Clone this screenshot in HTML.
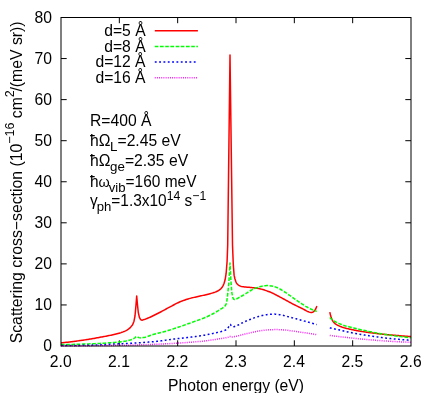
<!DOCTYPE html>
<html lang="en">
<head>
<meta charset="utf-8">
<title>Scattering cross-section vs photon energy</title>
<style>
html,body{margin:0;padding:0;background:#ffffff;}
body{width:436px;height:393px;overflow:hidden;font-family:"Liberation Sans",sans-serif;}
svg{display:block;will-change:transform;}
</style>
</head>
<body>
<svg width="436" height="393" viewBox="0 0 436 393">
<rect x="0" y="0" width="436" height="393" fill="#ffffff"/>
<g fill="none" stroke="#000000" stroke-width="1" stroke-linecap="butt">
<path d="M119.33,346.00 v-5.70 M119.33,17.50 v5.70 M177.67,346.00 v-5.70 M177.67,17.50 v5.70 M236.00,346.00 v-5.70 M236.00,17.50 v5.70 M294.33,346.00 v-5.70 M294.33,17.50 v5.70 M352.67,346.00 v-5.70 M352.67,17.50 v5.70 M61.00,304.94 h5.70 M411.00,304.94 h-5.70 M61.00,263.88 h5.70 M411.00,263.88 h-5.70 M61.00,222.81 h5.70 M411.00,222.81 h-5.70 M61.00,181.75 h5.70 M411.00,181.75 h-5.70 M61.00,140.69 h5.70 M411.00,140.69 h-5.70 M61.00,99.62 h5.70 M411.00,99.62 h-5.70 M61.00,58.56 h5.70 M411.00,58.56 h-5.70"/>
</g>
<g fill="none" stroke-width="1.50" stroke-linejoin="round" stroke-linecap="butt">
<path d="M61.00,342.90 L62.00,342.80 L63.00,342.70 L64.00,342.59 L65.00,342.48 L66.00,342.37 L67.00,342.26 L68.00,342.14 L69.00,342.02 L70.00,341.91 L71.00,341.78 L72.00,341.66 L73.00,341.53 L74.00,341.41 L75.00,341.28 L76.00,341.14 L77.00,341.01 L78.00,340.88 L79.00,340.74 L80.00,340.60 L81.00,340.46 L82.00,340.32 L83.00,340.17 L84.00,340.02 L85.00,339.87 L86.00,339.71 L87.00,339.56 L88.00,339.40 L89.00,339.23 L90.00,339.07 L91.00,338.90 L92.00,338.73 L93.00,338.56 L94.00,338.39 L95.00,338.21 L96.00,338.03 L97.00,337.85 L98.00,337.67 L99.00,337.49 L100.00,337.30 L101.00,337.11 L102.00,336.93 L103.00,336.74 L104.00,336.55 L105.00,336.37 L106.00,336.17 L107.00,335.98 L108.00,335.78 L109.00,335.58 L110.00,335.38 L111.00,335.17 L112.00,334.95 L113.00,334.73 L114.00,334.49 L115.00,334.25 L116.00,334.01 L117.00,333.75 L118.00,333.48 L119.00,333.20 L120.00,332.91 L121.00,332.60 L122.00,332.26 L123.00,331.90 L124.00,331.51 L125.00,331.08 L126.00,330.60 L127.00,330.04 L128.00,329.37 L129.00,328.63 L130.00,327.82 L130.50,327.40 L132.60,324.80 L134.00,321.20 L135.00,316.00 L135.90,306.00 L136.70,296.00 L137.50,305.00 L138.30,312.50 L139.40,317.40 L140.60,319.60 L142.10,320.20 L143.10,319.89 L144.10,319.57 L145.10,319.23 L146.10,318.86 L147.10,318.47 L148.10,318.06 L149.10,317.63 L150.10,317.19 L151.10,316.73 L152.10,316.26 L153.10,315.77 L154.10,315.28 L155.10,314.78 L156.10,314.28 L157.10,313.77 L158.10,313.26 L159.10,312.76 L160.10,312.25 L161.10,311.73 L162.10,311.20 L163.10,310.66 L164.10,310.12 L165.10,309.56 L166.10,309.01 L167.10,308.46 L168.10,307.91 L169.10,307.37 L170.10,306.85 L171.10,306.32 L172.10,305.79 L173.10,305.26 L174.10,304.73 L175.10,304.20 L176.10,303.68 L177.10,303.18 L178.10,302.70 L179.10,302.24 L180.10,301.81 L181.10,301.40 L182.10,301.01 L183.10,300.63 L184.10,300.27 L185.10,299.92 L186.10,299.58 L187.10,299.26 L188.10,298.95 L189.10,298.65 L190.10,298.37 L191.10,298.11 L192.10,297.85 L193.10,297.61 L194.10,297.39 L195.10,297.16 L196.10,296.95 L197.10,296.73 L198.10,296.52 L199.10,296.30 L200.10,296.08 L201.10,295.85 L202.10,295.61 L203.10,295.38 L204.10,295.15 L205.10,294.92 L206.10,294.69 L207.10,294.45 L208.10,294.20 L209.10,293.94 L210.10,293.67 L211.10,293.39 L212.10,293.11 L213.10,292.81 L214.10,292.48 L215.10,292.13 L216.10,291.74 L217.10,291.30 L218.10,290.78 L219.10,290.17 L220.10,289.39 L221.10,288.42 L222.10,287.24 L223.10,285.60 L224.10,283.27 L225.10,279.77 L226.10,273.72 L227.10,261.20 L227.70,245.00 L230.00,55.10 L232.50,245.00 L233.30,264.84 L234.10,275.15 L234.90,278.76 L235.70,281.19 L236.50,283.10 L237.30,284.08 L238.10,284.79 L238.90,285.32 L239.70,285.75 L240.50,286.12 L241.30,286.43 L242.10,286.62 L242.90,286.74 L243.70,286.84 L244.50,286.93 L245.30,287.00 L246.10,287.06 L246.90,287.13 L247.70,287.19 L248.50,287.27 L249.30,287.35 L250.10,287.44 L250.90,287.52 L251.70,287.61 L252.50,287.69 L253.30,287.78 L254.10,287.87 L254.90,287.97 L255.70,288.07 L256.50,288.18 L257.30,288.30 L258.10,288.43 L258.90,288.58 L259.70,288.75 L260.50,288.94 L261.30,289.14 L262.10,289.35 L262.90,289.58 L263.70,289.83 L264.50,290.08 L265.30,290.34 L266.10,290.61 L266.90,290.89 L267.70,291.18 L268.50,291.47 L269.30,291.76 L270.10,292.07 L270.90,292.40 L271.70,292.75 L272.50,293.12 L273.30,293.50 L274.10,293.90 L274.90,294.31 L275.70,294.73 L276.50,295.15 L277.30,295.58 L278.10,296.01 L278.90,296.44 L279.70,296.87 L280.50,297.29 L281.30,297.71 L282.10,298.13 L282.90,298.56 L283.70,299.00 L284.50,299.44 L285.30,299.88 L286.10,300.32 L286.90,300.77 L287.70,301.21 L288.50,301.65 L289.30,302.09 L290.10,302.53 L290.90,302.96 L291.70,303.39 L292.50,303.80 L293.30,304.21 L294.10,304.62 L294.90,305.02 L295.70,305.41 L296.50,305.81 L297.30,306.20 L298.10,306.58 L298.90,306.97 L299.70,307.36 L300.50,307.75 L301.30,308.15 L302.10,308.54 L302.90,308.94 L303.70,309.35 L304.50,309.78 L305.30,310.23 L306.10,310.69 L306.90,311.12 L307.70,311.48 L308.50,311.79 L309.30,312.10 L310.10,312.37 L310.90,312.55 L311.70,312.59 L312.50,312.33 L313.30,311.82 L314.10,311.20 L314.90,310.32 L315.70,309.01 L316.50,306.95 L316.80,306.00" stroke="#ff0000"/>
<path d="M329.80,312.10 L330.60,315.59 L331.40,318.14 L332.20,319.99 L333.00,321.34 L333.80,322.39 L334.60,323.17 L335.40,323.81 L336.20,324.35 L337.00,324.84 L337.80,325.28 L338.60,325.68 L339.40,326.05 L340.20,326.38 L341.00,326.69 L341.80,326.98 L342.60,327.25 L343.40,327.50 L344.20,327.75 L345.00,327.98 L345.80,328.20 L346.60,328.41 L347.40,328.61 L348.20,328.80 L349.00,328.98 L349.80,329.16 L350.60,329.33 L351.40,329.51 L352.20,329.68 L353.00,329.85 L353.80,330.02 L354.60,330.19 L355.40,330.35 L356.20,330.51 L357.00,330.66 L357.80,330.81 L358.60,330.96 L359.40,331.10 L360.20,331.23 L361.00,331.36 L361.80,331.49 L362.60,331.62 L363.40,331.74 L364.20,331.86 L365.00,331.98 L365.80,332.10 L366.60,332.22 L367.40,332.33 L368.20,332.44 L369.00,332.55 L369.80,332.66 L370.60,332.77 L371.40,332.87 L372.20,332.98 L373.00,333.08 L373.80,333.18 L374.60,333.28 L375.40,333.37 L376.20,333.47 L377.00,333.56 L377.80,333.65 L378.60,333.74 L379.40,333.83 L380.20,333.92 L381.00,334.01 L381.80,334.09 L382.60,334.17 L383.40,334.25 L384.20,334.33 L385.00,334.41 L385.80,334.49 L386.60,334.56 L387.40,334.63 L388.20,334.71 L389.00,334.78 L389.80,334.85 L390.60,334.92 L391.40,334.99 L392.20,335.06 L393.00,335.13 L393.80,335.20 L394.60,335.27 L395.40,335.33 L396.20,335.40 L397.00,335.47 L397.80,335.54 L398.60,335.61 L399.40,335.68 L400.20,335.74 L401.00,335.81 L401.80,335.88 L402.60,335.94 L403.40,336.01 L404.20,336.07 L405.00,336.14 L405.80,336.20 L406.60,336.26 L407.40,336.32 L408.20,336.39 L409.00,336.45 L409.80,336.51 L410.60,336.57 L411.00,336.60" stroke="#ff0000"/>
<path d="M61.00,344.60 L62.00,344.59 L63.00,344.57 L64.00,344.56 L65.00,344.54 L66.00,344.53 L67.00,344.51 L68.00,344.49 L69.00,344.47 L70.00,344.45 L71.00,344.43 L72.00,344.40 L73.00,344.38 L74.00,344.36 L75.00,344.33 L76.00,344.31 L77.00,344.28 L78.00,344.25 L79.00,344.23 L80.00,344.20 L81.00,344.17 L82.00,344.14 L83.00,344.11 L84.00,344.08 L85.00,344.04 L86.00,344.01 L87.00,343.97 L88.00,343.93 L89.00,343.89 L90.00,343.85 L91.00,343.81 L92.00,343.77 L93.00,343.73 L94.00,343.68 L95.00,343.64 L96.00,343.59 L97.00,343.54 L98.00,343.50 L99.00,343.45 L100.00,343.40 L101.00,343.35 L102.00,343.30 L103.00,343.25 L104.00,343.19 L105.00,343.13 L106.00,343.07 L107.00,343.01 L108.00,342.94 L109.00,342.87 L110.00,342.80 L111.00,342.72 L112.00,342.65 L113.00,342.57 L114.00,342.48 L115.00,342.40 L116.00,342.31 L117.00,342.21 L118.00,342.11 L119.00,342.00 L120.00,341.89 L121.00,341.77 L122.00,341.64 L123.00,341.50 L124.00,341.36 L125.00,341.20 L126.00,341.03 L127.00,340.83 L128.00,340.61 L129.00,340.35 L130.00,340.07 L131.00,339.75 L132.00,339.39 L133.00,339.00 L134.00,338.46 L135.00,337.75 L136.00,336.76 L137.00,336.38 L138.00,337.19 L139.00,337.62 L140.00,337.88 L141.00,337.87 L142.00,337.76 L143.00,337.58 L144.00,337.40 L145.00,337.19 L146.00,336.93 L147.00,336.63 L148.00,336.30 L149.00,335.94 L150.00,335.58 L151.00,335.22 L152.00,334.87 L153.00,334.54 L154.00,334.24 L155.00,333.97 L156.00,333.71 L157.00,333.46 L158.00,333.21 L159.00,332.97 L160.00,332.73 L161.00,332.49 L162.00,332.24 L163.00,331.99 L164.00,331.73 L165.00,331.45 L166.00,331.16 L167.00,330.87 L168.00,330.57 L169.00,330.26 L170.00,329.94 L171.00,329.62 L172.00,329.30 L173.00,328.97 L174.00,328.64 L175.00,328.31 L176.00,327.97 L177.00,327.64 L178.00,327.30 L179.00,326.97 L180.00,326.63 L181.00,326.29 L182.00,325.94 L183.00,325.60 L184.00,325.25 L185.00,324.90 L186.00,324.54 L187.00,324.19 L188.00,323.83 L189.00,323.47 L190.00,323.11 L191.00,322.75 L192.00,322.38 L193.00,322.02 L194.00,321.66 L195.00,321.30 L196.00,320.94 L197.00,320.59 L198.00,320.23 L199.00,319.86 L200.00,319.50 L201.00,319.13 L202.00,318.75 L203.00,318.36 L204.00,317.96 L205.00,317.55 L206.00,317.13 L207.00,316.69 L208.00,316.24 L209.00,315.77 L210.00,315.28 L211.00,314.78 L212.00,314.27 L213.00,313.74 L214.00,313.20 L215.00,312.64 L216.00,312.07 L217.00,311.47 L218.00,310.86 L219.00,310.23 L220.00,309.60 L221.00,308.98 L222.00,308.36 L223.00,307.68 L224.00,306.90 L225.00,305.97 L226.00,304.42 L226.60,302.80 L227.70,294.40 L229.00,280.40 L230.00,263.10 L230.90,280.40 L231.90,293.10 L232.80,297.60 L233.80,299.25 L234.80,299.50 L235.80,299.21 L236.80,298.77 L237.80,298.27 L238.80,297.69 L239.80,297.11 L240.80,296.56 L241.80,296.02 L242.80,295.47 L243.80,294.91 L244.80,294.32 L245.80,293.69 L246.80,293.00 L247.80,292.30 L248.80,291.63 L249.80,291.01 L250.80,290.47 L251.80,289.94 L252.80,289.43 L253.80,288.95 L254.80,288.49 L255.80,288.07 L256.80,287.68 L257.80,287.33 L258.80,287.02 L259.80,286.72 L260.80,286.44 L261.80,286.21 L262.80,286.03 L263.80,285.89 L264.80,285.76 L265.80,285.66 L266.80,285.60 L267.80,285.61 L268.80,285.68 L269.80,285.78 L270.80,285.91 L271.80,286.04 L272.80,286.24 L273.80,286.49 L274.80,286.79 L275.80,287.13 L276.80,287.49 L277.80,287.91 L278.80,288.40 L279.80,288.94 L280.80,289.49 L281.80,290.06 L282.80,290.68 L283.80,291.34 L284.80,292.02 L285.80,292.72 L286.80,293.41 L287.80,294.10 L288.80,294.79 L289.80,295.49 L290.80,296.20 L291.80,296.91 L292.80,297.63 L293.80,298.35 L294.80,299.06 L295.80,299.77 L296.80,300.47 L297.80,301.16 L298.80,301.84 L299.80,302.49 L300.80,303.15 L301.80,303.81 L302.80,304.45 L303.80,305.09 L304.80,305.72 L305.80,306.33 L306.80,306.91 L307.80,307.48 L308.80,308.01 L309.80,308.53 L310.80,309.02 L311.80,309.48 L312.80,309.92 L313.80,310.32 L314.80,310.71 L315.80,311.07 L316.80,311.40" stroke="#00ff00" stroke-dasharray="3.64 1.56"/>
<path d="M329.80,317.50 L330.80,318.54 L331.80,319.44 L332.80,320.18 L333.80,320.84 L334.80,321.44 L335.80,321.99 L336.80,322.50 L337.80,322.97 L338.80,323.41 L339.80,323.82 L340.80,324.22 L341.80,324.62 L342.80,325.00 L343.80,325.36 L344.80,325.70 L345.80,326.00 L346.80,326.26 L347.80,326.50 L348.80,326.72 L349.80,326.95 L350.80,327.20 L351.80,327.45 L352.80,327.70 L353.80,327.96 L354.80,328.22 L355.80,328.47 L356.80,328.73 L357.80,328.98 L358.80,329.22 L359.80,329.45 L360.80,329.68 L361.80,329.91 L362.80,330.13 L363.80,330.35 L364.80,330.57 L365.80,330.79 L366.80,331.01 L367.80,331.22 L368.80,331.43 L369.80,331.64 L370.80,331.85 L371.80,332.05 L372.80,332.25 L373.80,332.45 L374.80,332.64 L375.80,332.84 L376.80,333.02 L377.80,333.21 L378.80,333.39 L379.80,333.57 L380.80,333.74 L381.80,333.91 L382.80,334.08 L383.80,334.24 L384.80,334.41 L385.80,334.57 L386.80,334.72 L387.80,334.88 L388.80,335.03 L389.80,335.18 L390.80,335.32 L391.80,335.47 L392.80,335.61 L393.80,335.74 L394.80,335.87 L395.80,336.00 L396.80,336.13 L397.80,336.26 L398.80,336.38 L399.80,336.50 L400.80,336.62 L401.80,336.74 L402.80,336.85 L403.80,336.97 L404.80,337.08 L405.80,337.18 L406.80,337.29 L407.80,337.39 L408.80,337.49 L409.80,337.59 L410.80,337.68 L411.00,337.70" stroke="#00ff00" stroke-dasharray="3.64 1.56"/>
<path d="M61.00,345.60 L61.70,345.60 L62.40,345.60 L63.10,345.60 L63.80,345.60 L64.50,345.59 L65.20,345.59 L65.90,345.59 L66.60,345.58 L67.30,345.58 L68.00,345.57 L68.70,345.57 L69.40,345.56 L70.10,345.55 L70.80,345.55 L71.50,345.54 L72.20,345.53 L72.90,345.52 L73.60,345.51 L74.30,345.50 L75.00,345.49 L75.70,345.48 L76.40,345.47 L77.10,345.46 L77.80,345.45 L78.50,345.44 L79.20,345.43 L79.90,345.41 L80.60,345.40 L81.30,345.39 L82.00,345.37 L82.70,345.36 L83.40,345.34 L84.10,345.33 L84.80,345.31 L85.50,345.30 L86.20,345.28 L86.90,345.26 L87.60,345.25 L88.30,345.23 L89.00,345.21 L89.70,345.19 L90.40,345.18 L91.10,345.16 L91.80,345.14 L92.50,345.12 L93.20,345.10 L93.90,345.08 L94.60,345.06 L95.30,345.04 L96.00,345.02 L96.70,345.00 L97.40,344.98 L98.10,344.96 L98.80,344.94 L99.50,344.92 L100.20,344.89 L100.90,344.87 L101.60,344.84 L102.30,344.80 L103.00,344.76 L103.70,344.72 L104.40,344.67 L105.10,344.63 L105.80,344.58 L106.50,344.53 L107.20,344.48 L107.90,344.43 L108.60,344.39 L109.30,344.34 L110.00,344.30 L110.70,344.26 L111.40,344.22 L112.10,344.18 L112.80,344.15 L113.50,344.11 L114.20,344.07 L114.90,344.03 L115.60,344.00 L116.30,343.96 L117.00,343.93 L117.70,343.89 L118.40,343.86 L119.10,343.82 L119.80,343.79 L120.50,343.76 L121.20,343.72 L121.90,343.69 L122.60,343.65 L123.30,343.62 L124.00,343.58 L124.70,343.55 L125.40,343.52 L126.10,343.48 L126.80,343.45 L127.50,343.41 L128.20,343.38 L128.90,343.34 L129.60,343.30 L130.30,343.27 L131.00,343.23 L131.70,343.19 L132.40,343.16 L133.10,343.12 L133.80,343.08 L134.50,343.04 L135.20,343.00 L135.90,342.96 L136.60,342.92 L137.30,342.87 L138.00,342.83 L138.70,342.78 L139.40,342.74 L140.10,342.69 L140.80,342.65 L141.50,342.60 L142.20,342.55 L142.90,342.50 L143.60,342.45 L144.30,342.40 L145.00,342.35 L145.70,342.30 L146.40,342.25 L147.10,342.20 L147.80,342.14 L148.50,342.09 L149.20,342.03 L149.90,341.97 L150.60,341.91 L151.30,341.85 L152.00,341.79 L152.70,341.73 L153.40,341.67 L154.10,341.60 L154.80,341.54 L155.50,341.47 L156.20,341.40 L156.90,341.33 L157.60,341.26 L158.30,341.19 L159.00,341.11 L159.70,341.03 L160.40,340.95 L161.10,340.86 L161.80,340.77 L162.50,340.67 L163.20,340.56 L163.90,340.45 L164.60,340.34 L165.30,340.23 L166.00,340.12 L166.70,340.01 L167.40,339.91 L168.10,339.82 L168.80,339.72 L169.50,339.63 L170.20,339.54 L170.90,339.45 L171.60,339.36 L172.30,339.28 L173.00,339.19 L173.70,339.11 L174.40,339.02 L175.10,338.94 L175.80,338.86 L176.50,338.78 L177.20,338.70 L177.90,338.62 L178.60,338.54 L179.30,338.46 L180.00,338.38 L180.70,338.30 L181.40,338.22 L182.10,338.14 L182.80,338.07 L183.50,337.99 L184.20,337.91 L184.90,337.83 L185.60,337.75 L186.30,337.67 L187.00,337.59 L187.70,337.51 L188.40,337.43 L189.10,337.35 L189.80,337.26 L190.50,337.18 L191.20,337.09 L191.90,337.01 L192.60,336.92 L193.30,336.83 L194.00,336.74 L194.70,336.65 L195.40,336.56 L196.10,336.46 L196.80,336.36 L197.50,336.27 L198.20,336.17 L198.90,336.06 L199.60,335.96 L200.30,335.86 L201.00,335.75 L201.70,335.64 L202.40,335.52 L203.10,335.40 L203.80,335.28 L204.50,335.16 L205.20,335.03 L205.90,334.90 L206.60,334.77 L207.30,334.63 L208.00,334.49 L208.70,334.35 L209.40,334.21 L210.10,334.06 L210.80,333.91 L211.50,333.76 L212.20,333.61 L212.90,333.46 L213.60,333.31 L214.30,333.15 L215.00,333.00 L215.70,332.84 L216.40,332.69 L217.10,332.53 L217.80,332.37 L218.50,332.21 L219.20,332.03 L219.90,331.86 L220.60,331.67 L221.30,331.48 L222.00,331.27 L222.70,331.07 L223.40,330.86 L224.10,330.63 L224.80,330.37 L225.50,330.06 L226.20,329.68 L226.90,329.10 L227.60,328.36 L228.30,327.50 L229.00,326.16 L229.70,324.73 L230.40,324.40 L231.10,325.58 L231.80,326.36 L232.50,326.84 L233.20,326.87 L233.90,326.69 L234.60,326.44 L235.30,326.20 L236.00,325.95 L236.70,325.67 L237.40,325.37 L238.10,325.05 L238.80,324.71 L239.50,324.37 L240.20,324.01 L240.90,323.65 L241.60,323.28 L242.30,322.92 L243.00,322.55 L243.70,322.20 L244.40,321.85 L245.10,321.52 L245.80,321.20 L246.50,320.90 L247.20,320.61 L247.90,320.32 L248.60,320.04 L249.30,319.75 L250.00,319.47 L250.70,319.19 L251.40,318.92 L252.10,318.65 L252.80,318.39 L253.50,318.13 L254.20,317.88 L254.90,317.64 L255.60,317.41 L256.30,317.18 L257.00,316.96 L257.70,316.76 L258.40,316.56 L259.10,316.36 L259.80,316.16 L260.50,315.97 L261.20,315.78 L261.90,315.60 L262.60,315.43 L263.30,315.28 L264.00,315.13 L264.70,315.00 L265.40,314.88 L266.10,314.79 L266.80,314.70 L267.50,314.61 L268.20,314.52 L268.90,314.44 L269.60,314.36 L270.30,314.29 L271.00,314.23 L271.70,314.18 L272.40,314.14 L273.10,314.11 L273.80,314.10 L274.50,314.11 L275.20,314.14 L275.90,314.19 L276.60,314.25 L277.30,314.34 L278.00,314.43 L278.70,314.53 L279.40,314.64 L280.10,314.76 L280.80,314.87 L281.50,314.98 L282.20,315.12 L282.90,315.28 L283.60,315.45 L284.30,315.64 L285.00,315.83 L285.70,316.03 L286.40,316.22 L287.10,316.41 L287.80,316.60 L288.50,316.78 L289.20,316.96 L289.90,317.15 L290.60,317.33 L291.30,317.51 L292.00,317.70 L292.70,317.88 L293.40,318.07 L294.10,318.26 L294.80,318.44 L295.50,318.63 L296.20,318.82 L296.90,319.01 L297.60,319.20 L298.30,319.39 L299.00,319.58 L299.70,319.77 L300.40,319.96 L301.10,320.16 L301.80,320.35 L302.50,320.54 L303.20,320.73 L303.90,320.93 L304.60,321.12 L305.30,321.32 L306.00,321.51 L306.70,321.71 L307.40,321.90 L308.10,322.10 L308.80,322.30 L309.50,322.50 L310.20,322.70 L310.90,322.90 L311.60,323.10 L312.30,323.30 L313.00,323.50 L313.70,323.70 L314.40,323.90 L315.10,324.11 L315.80,324.31 L316.50,324.51 L316.80,324.60" stroke="#0000ff" stroke-dasharray="1.86 2.47"/>
<path d="M329.80,327.90 L330.80,328.10 L331.80,328.31 L332.80,328.51 L333.80,328.72 L334.80,328.94 L335.80,329.16 L336.80,329.38 L337.80,329.61 L338.80,329.85 L339.80,330.09 L340.80,330.33 L341.80,330.57 L342.80,330.81 L343.80,331.05 L344.80,331.28 L345.80,331.50 L346.80,331.71 L347.80,331.93 L348.80,332.14 L349.80,332.35 L350.80,332.55 L351.80,332.76 L352.80,332.96 L353.80,333.16 L354.80,333.35 L355.80,333.54 L356.80,333.73 L357.80,333.91 L358.80,334.09 L359.80,334.27 L360.80,334.44 L361.80,334.61 L362.80,334.77 L363.80,334.94 L364.80,335.10 L365.80,335.26 L366.80,335.42 L367.80,335.57 L368.80,335.73 L369.80,335.88 L370.80,336.03 L371.80,336.18 L372.80,336.32 L373.80,336.46 L374.80,336.60 L375.80,336.74 L376.80,336.88 L377.80,337.01 L378.80,337.14 L379.80,337.27 L380.80,337.40 L381.80,337.53 L382.80,337.65 L383.80,337.78 L384.80,337.90 L385.80,338.02 L386.80,338.13 L387.80,338.25 L388.80,338.36 L389.80,338.47 L390.80,338.58 L391.80,338.68 L392.80,338.78 L393.80,338.88 L394.80,338.98 L395.80,339.08 L396.80,339.17 L397.80,339.26 L398.80,339.35 L399.80,339.44 L400.80,339.53 L401.80,339.61 L402.80,339.69 L403.80,339.78 L404.80,339.85 L405.80,339.93 L406.80,340.01 L407.80,340.08 L408.80,340.15 L409.80,340.22 L410.80,340.29 L411.00,340.30" stroke="#0000ff" stroke-dasharray="1.86 2.47"/>
<path d="M61.00,345.80 L61.50,345.80 L62.00,345.80 L62.50,345.80 L63.00,345.80 L63.50,345.80 L64.00,345.80 L64.50,345.80 L65.00,345.80 L65.50,345.80 L66.00,345.80 L66.50,345.79 L67.00,345.79 L67.50,345.79 L68.00,345.79 L68.50,345.79 L69.00,345.79 L69.50,345.79 L70.00,345.78 L70.50,345.78 L71.00,345.78 L71.50,345.78 L72.00,345.78 L72.50,345.78 L73.00,345.77 L73.50,345.77 L74.00,345.77 L74.50,345.77 L75.00,345.76 L75.50,345.76 L76.00,345.76 L76.50,345.76 L77.00,345.75 L77.50,345.75 L78.00,345.75 L78.50,345.74 L79.00,345.74 L79.50,345.74 L80.00,345.73 L80.50,345.73 L81.00,345.73 L81.50,345.72 L82.00,345.72 L82.50,345.72 L83.00,345.71 L83.50,345.71 L84.00,345.71 L84.50,345.70 L85.00,345.70 L85.50,345.69 L86.00,345.69 L86.50,345.69 L87.00,345.68 L87.50,345.68 L88.00,345.67 L88.50,345.67 L89.00,345.66 L89.50,345.66 L90.00,345.66 L90.50,345.65 L91.00,345.65 L91.50,345.64 L92.00,345.64 L92.50,345.63 L93.00,345.63 L93.50,345.62 L94.00,345.62 L94.50,345.61 L95.00,345.61 L95.50,345.60 L96.00,345.60 L96.50,345.59 L97.00,345.59 L97.50,345.58 L98.00,345.58 L98.50,345.57 L99.00,345.56 L99.50,345.56 L100.00,345.55 L100.50,345.55 L101.00,345.54 L101.50,345.54 L102.00,345.53 L102.50,345.52 L103.00,345.52 L103.50,345.51 L104.00,345.51 L104.50,345.50 L105.00,345.49 L105.50,345.49 L106.00,345.48 L106.50,345.48 L107.00,345.47 L107.50,345.46 L108.00,345.46 L108.50,345.45 L109.00,345.45 L109.50,345.44 L110.00,345.43 L110.50,345.43 L111.00,345.42 L111.50,345.41 L112.00,345.41 L112.50,345.40 L113.00,345.39 L113.50,345.39 L114.00,345.38 L114.50,345.37 L115.00,345.37 L115.50,345.36 L116.00,345.35 L116.50,345.35 L117.00,345.34 L117.50,345.33 L118.00,345.33 L118.50,345.32 L119.00,345.31 L119.50,345.31 L120.00,345.30 L120.50,345.29 L121.00,345.29 L121.50,345.28 L122.00,345.27 L122.50,345.26 L123.00,345.25 L123.50,345.25 L124.00,345.24 L124.50,345.23 L125.00,345.22 L125.50,345.21 L126.00,345.20 L126.50,345.19 L127.00,345.18 L127.50,345.17 L128.00,345.16 L128.50,345.14 L129.00,345.13 L129.50,345.12 L130.00,345.11 L130.50,345.10 L131.00,345.08 L131.50,345.07 L132.00,345.06 L132.50,345.05 L133.00,345.03 L133.50,345.02 L134.00,345.01 L134.50,344.99 L135.00,344.98 L135.50,344.96 L136.00,344.95 L136.50,344.94 L137.00,344.92 L137.50,344.91 L138.00,344.89 L138.50,344.88 L139.00,344.86 L139.50,344.84 L140.00,344.83 L140.50,344.81 L141.00,344.80 L141.50,344.78 L142.00,344.76 L142.50,344.75 L143.00,344.73 L143.50,344.71 L144.00,344.70 L144.50,344.68 L145.00,344.66 L145.50,344.65 L146.00,344.63 L146.50,344.61 L147.00,344.59 L147.50,344.57 L148.00,344.56 L148.50,344.54 L149.00,344.52 L149.50,344.50 L150.00,344.48 L150.50,344.47 L151.00,344.45 L151.50,344.43 L152.00,344.41 L152.50,344.39 L153.00,344.37 L153.50,344.35 L154.00,344.33 L154.50,344.31 L155.00,344.30 L155.50,344.28 L156.00,344.26 L156.50,344.24 L157.00,344.22 L157.50,344.20 L158.00,344.18 L158.50,344.16 L159.00,344.14 L159.50,344.12 L160.00,344.10 L160.50,344.08 L161.00,344.06 L161.50,344.04 L162.00,344.02 L162.50,343.99 L163.00,343.97 L163.50,343.95 L164.00,343.92 L164.50,343.90 L165.00,343.87 L165.50,343.85 L166.00,343.82 L166.50,343.79 L167.00,343.77 L167.50,343.74 L168.00,343.71 L168.50,343.69 L169.00,343.66 L169.50,343.63 L170.00,343.60 L170.50,343.57 L171.00,343.54 L171.50,343.51 L172.00,343.48 L172.50,343.45 L173.00,343.43 L173.50,343.40 L174.00,343.37 L174.50,343.34 L175.00,343.31 L175.50,343.28 L176.00,343.24 L176.50,343.21 L177.00,343.18 L177.50,343.15 L178.00,343.12 L178.50,343.09 L179.00,343.06 L179.50,343.03 L180.00,342.99 L180.50,342.96 L181.00,342.93 L181.50,342.90 L182.00,342.86 L182.50,342.83 L183.00,342.79 L183.50,342.76 L184.00,342.73 L184.50,342.69 L185.00,342.66 L185.50,342.62 L186.00,342.59 L186.50,342.55 L187.00,342.51 L187.50,342.48 L188.00,342.44 L188.50,342.40 L189.00,342.36 L189.50,342.33 L190.00,342.29 L190.50,342.25 L191.00,342.21 L191.50,342.17 L192.00,342.13 L192.50,342.09 L193.00,342.05 L193.50,342.01 L194.00,341.97 L194.50,341.92 L195.00,341.88 L195.50,341.84 L196.00,341.79 L196.50,341.75 L197.00,341.70 L197.50,341.66 L198.00,341.61 L198.50,341.57 L199.00,341.52 L199.50,341.47 L200.00,341.43 L200.50,341.38 L201.00,341.33 L201.50,341.28 L202.00,341.23 L202.50,341.18 L203.00,341.12 L203.50,341.07 L204.00,341.01 L204.50,340.95 L205.00,340.89 L205.50,340.83 L206.00,340.77 L206.50,340.71 L207.00,340.64 L207.50,340.57 L208.00,340.51 L208.50,340.44 L209.00,340.37 L209.50,340.30 L210.00,340.23 L210.50,340.16 L211.00,340.09 L211.50,340.01 L212.00,339.94 L212.50,339.86 L213.00,339.79 L213.50,339.71 L214.00,339.64 L214.50,339.56 L215.00,339.48 L215.50,339.41 L216.00,339.33 L216.50,339.25 L217.00,339.17 L217.50,339.09 L218.00,339.02 L218.50,338.94 L219.00,338.86 L219.50,338.78 L220.00,338.70 L220.50,338.62 L221.00,338.55 L221.50,338.47 L222.00,338.40 L222.50,338.33 L223.00,338.25 L223.50,338.17 L224.00,338.10 L224.50,338.01 L225.00,337.93 L225.50,337.84 L226.00,337.74 L226.50,337.64 L227.00,337.54 L227.50,337.42 L228.00,337.30 L228.50,337.12 L229.00,336.88 L229.50,336.65 L230.00,336.51 L230.50,336.52 L231.00,336.64 L231.50,336.79 L232.00,336.89 L232.50,336.89 L233.00,336.85 L233.50,336.78 L234.00,336.69 L234.50,336.59 L235.00,336.50 L235.50,336.41 L236.00,336.32 L236.50,336.21 L237.00,336.11 L237.50,336.00 L238.00,335.88 L238.50,335.76 L239.00,335.64 L239.50,335.51 L240.00,335.38 L240.50,335.25 L241.00,335.12 L241.50,334.99 L242.00,334.85 L242.50,334.72 L243.00,334.58 L243.50,334.45 L244.00,334.32 L244.50,334.19 L245.00,334.06 L245.50,333.94 L246.00,333.82 L246.50,333.70 L247.00,333.58 L247.50,333.47 L248.00,333.35 L248.50,333.23 L249.00,333.11 L249.50,332.99 L250.00,332.87 L250.50,332.75 L251.00,332.63 L251.50,332.51 L252.00,332.40 L252.50,332.28 L253.00,332.17 L253.50,332.06 L254.00,331.95 L254.50,331.84 L255.00,331.74 L255.50,331.64 L256.00,331.54 L256.50,331.44 L257.00,331.35 L257.50,331.27 L258.00,331.18 L258.50,331.10 L259.00,331.02 L259.50,330.94 L260.00,330.86 L260.50,330.78 L261.00,330.70 L261.50,330.63 L262.00,330.55 L262.50,330.48 L263.00,330.41 L263.50,330.34 L264.00,330.28 L264.50,330.22 L265.00,330.16 L265.50,330.10 L266.00,330.05 L266.50,330.01 L267.00,329.97 L267.50,329.93 L268.00,329.90 L268.50,329.87 L269.00,329.85 L269.50,329.82 L270.00,329.79 L270.50,329.77 L271.00,329.74 L271.50,329.72 L272.00,329.70 L272.50,329.68 L273.00,329.66 L273.50,329.64 L274.00,329.63 L274.50,329.62 L275.00,329.61 L275.50,329.60 L276.00,329.60 L276.50,329.60 L277.00,329.60 L277.50,329.61 L278.00,329.62 L278.50,329.63 L279.00,329.65 L279.50,329.67 L280.00,329.69 L280.50,329.72 L281.00,329.74 L281.50,329.77 L282.00,329.80 L282.50,329.83 L283.00,329.86 L283.50,329.90 L284.00,329.93 L284.50,329.97 L285.00,330.00 L285.50,330.04 L286.00,330.09 L286.50,330.14 L287.00,330.20 L287.50,330.27 L288.00,330.34 L288.50,330.41 L289.00,330.49 L289.50,330.57 L290.00,330.65 L290.50,330.73 L291.00,330.81 L291.50,330.88 L292.00,330.96 L292.50,331.03 L293.00,331.10 L293.50,331.17 L294.00,331.23 L294.50,331.30 L295.00,331.37 L295.50,331.44 L296.00,331.51 L296.50,331.58 L297.00,331.64 L297.50,331.71 L298.00,331.78 L298.50,331.85 L299.00,331.92 L299.50,331.99 L300.00,332.06 L300.50,332.13 L301.00,332.20 L301.50,332.27 L302.00,332.34 L302.50,332.41 L303.00,332.48 L303.50,332.56 L304.00,332.63 L304.50,332.70 L305.00,332.78 L305.50,332.85 L306.00,332.92 L306.50,333.00 L307.00,333.07 L307.50,333.15 L308.00,333.22 L308.50,333.30 L309.00,333.38 L309.50,333.45 L310.00,333.53 L310.50,333.61 L311.00,333.68 L311.50,333.76 L312.00,333.84 L312.50,333.92 L313.00,333.99 L313.50,334.07 L314.00,334.15 L314.50,334.23 L315.00,334.31 L315.50,334.39 L316.00,334.47 L316.50,334.55 L316.80,334.60" stroke="#ff00ff" stroke-dasharray="0.87 1.30"/>
<path d="M329.80,335.50 L330.30,335.56 L330.80,335.63 L331.30,335.69 L331.80,335.75 L332.30,335.81 L332.80,335.87 L333.30,335.93 L333.80,336.00 L334.30,336.06 L334.80,336.12 L335.30,336.18 L335.80,336.24 L336.30,336.30 L336.80,336.36 L337.30,336.42 L337.80,336.48 L338.30,336.54 L338.80,336.60 L339.30,336.66 L339.80,336.71 L340.30,336.77 L340.80,336.83 L341.30,336.89 L341.80,336.95 L342.30,337.00 L342.80,337.06 L343.30,337.12 L343.80,337.17 L344.30,337.23 L344.80,337.29 L345.30,337.34 L345.80,337.40 L346.30,337.46 L346.80,337.51 L347.30,337.57 L347.80,337.62 L348.30,337.68 L348.80,337.73 L349.30,337.79 L349.80,337.84 L350.30,337.90 L350.80,337.95 L351.30,338.01 L351.80,338.06 L352.30,338.12 L352.80,338.17 L353.30,338.22 L353.80,338.28 L354.30,338.33 L354.80,338.38 L355.30,338.43 L355.80,338.48 L356.30,338.54 L356.80,338.59 L357.30,338.64 L357.80,338.69 L358.30,338.74 L358.80,338.78 L359.30,338.83 L359.80,338.88 L360.30,338.93 L360.80,338.98 L361.30,339.02 L361.80,339.07 L362.30,339.12 L362.80,339.16 L363.30,339.21 L363.80,339.25 L364.30,339.30 L364.80,339.34 L365.30,339.39 L365.80,339.43 L366.30,339.48 L366.80,339.52 L367.30,339.57 L367.80,339.61 L368.30,339.65 L368.80,339.70 L369.30,339.74 L369.80,339.78 L370.30,339.83 L370.80,339.87 L371.30,339.91 L371.80,339.95 L372.30,339.99 L372.80,340.04 L373.30,340.08 L373.80,340.12 L374.30,340.16 L374.80,340.20 L375.30,340.24 L375.80,340.28 L376.30,340.32 L376.80,340.36 L377.30,340.40 L377.80,340.43 L378.30,340.47 L378.80,340.51 L379.30,340.55 L379.80,340.59 L380.30,340.62 L380.80,340.66 L381.30,340.70 L381.80,340.73 L382.30,340.77 L382.80,340.81 L383.30,340.84 L383.80,340.88 L384.30,340.92 L384.80,340.95 L385.30,340.99 L385.80,341.02 L386.30,341.06 L386.80,341.09 L387.30,341.13 L387.80,341.16 L388.30,341.19 L388.80,341.23 L389.30,341.26 L389.80,341.29 L390.30,341.32 L390.80,341.36 L391.30,341.39 L391.80,341.42 L392.30,341.45 L392.80,341.48 L393.30,341.51 L393.80,341.53 L394.30,341.56 L394.80,341.59 L395.30,341.62 L395.80,341.64 L396.30,341.67 L396.80,341.69 L397.30,341.72 L397.80,341.74 L398.30,341.77 L398.80,341.79 L399.30,341.82 L399.80,341.84 L400.30,341.87 L400.80,341.89 L401.30,341.91 L401.80,341.94 L402.30,341.96 L402.80,341.98 L403.30,342.01 L403.80,342.03 L404.30,342.05 L404.80,342.07 L405.30,342.09 L405.80,342.11 L406.30,342.13 L406.80,342.15 L407.30,342.17 L407.80,342.19 L408.30,342.21 L408.80,342.23 L409.30,342.24 L409.80,342.26 L410.30,342.28 L410.80,342.29 L411.00,342.30" stroke="#ff00ff" stroke-dasharray="0.87 1.30"/>
</g>
<g fill="none" stroke-width="1.50">
<path d="M154.80,30.70 L197.90,30.70" stroke="#ff0000"/>
<path d="M154.80,46.40 L197.90,46.40" stroke="#00ff00" stroke-dasharray="3.64 1.56"/>
<path d="M154.80,62.10 L197.90,62.10" stroke="#0000ff" stroke-dasharray="1.86 2.47"/>
<path d="M154.80,77.80 L197.90,77.80" stroke="#ff00ff" stroke-dasharray="0.87 1.30"/>
</g>
<rect x="61.00" y="17.50" width="350.00" height="328.50" fill="none" stroke="#000000" stroke-width="1"/>
<g font-family="'Liberation Sans', sans-serif" font-size="15.70" fill="#000000">
<text transform="translate(52.00,351.30) scale(1.0000,1)" text-anchor="end">0</text>
<text transform="translate(52.00,310.24) scale(1.0000,1)" text-anchor="end">10</text>
<text transform="translate(52.00,269.18) scale(1.0000,1)" text-anchor="end">20</text>
<text transform="translate(52.00,228.11) scale(1.0000,1)" text-anchor="end">30</text>
<text transform="translate(52.00,187.05) scale(1.0000,1)" text-anchor="end">40</text>
<text transform="translate(52.00,145.99) scale(1.0000,1)" text-anchor="end">50</text>
<text transform="translate(52.00,104.92) scale(1.0000,1)" text-anchor="end">60</text>
<text transform="translate(52.00,63.86) scale(1.0000,1)" text-anchor="end">70</text>
<text transform="translate(52.00,22.80) scale(1.0000,1)" text-anchor="end">80</text>
<text transform="translate(60.70,367.00) scale(1.0000,1)" text-anchor="middle">2.0</text>
<text transform="translate(119.03,367.00) scale(1.0000,1)" text-anchor="middle">2.1</text>
<text transform="translate(177.37,367.00) scale(1.0000,1)" text-anchor="middle">2.2</text>
<text transform="translate(235.70,367.00) scale(1.0000,1)" text-anchor="middle">2.3</text>
<text transform="translate(294.03,367.00) scale(1.0000,1)" text-anchor="middle">2.4</text>
<text transform="translate(352.37,367.00) scale(1.0000,1)" text-anchor="middle">2.5</text>
<text transform="translate(410.70,367.00) scale(1.0000,1)" text-anchor="middle">2.6</text>
<text transform="translate(145.60,36.00) scale(1.0000,1)" text-anchor="end">d=5 Å</text>
<text transform="translate(145.60,51.70) scale(1.0000,1)" text-anchor="end">d=8 Å</text>
<text transform="translate(145.60,67.40) scale(1.0000,1)" text-anchor="end">d=12 Å</text>
<text transform="translate(145.60,83.10) scale(1.0000,1)" text-anchor="end">d=16 Å</text>
<text transform="translate(236.00,391.00) scale(1.0000,1)" text-anchor="middle">Photon energy (eV)</text>
<text transform="translate(22.20,182.35) rotate(-90) scale(1.0060,1)" text-anchor="middle">Scattering cross−section (10<tspan font-size="12.40" dy="-8.20">−16</tspan><tspan dy="8.20"> cm</tspan><tspan font-size="12.40" dy="-8.20">2</tspan><tspan dy="8.20" dx="-1.3">/(meV sr))</tspan></text>
<text transform="translate(90.00,126.00) scale(1.0000,1)" text-anchor="start">R=400 Å</text>
<text transform="translate(90.00,146.00) scale(1.0000,1)" text-anchor="start">ħΩ<tspan font-size="13.34" dy="4.90" dx="-0.40">L</tspan><tspan dy="-4.90">=2.45 eV</tspan></text>
<text transform="translate(90.00,166.40) scale(1.0000,1)" text-anchor="start">ħΩ<tspan font-size="13.34" dy="4.90" dx="-0.40">ge</tspan><tspan dy="-4.90">=2.35 eV</tspan></text>
<text transform="translate(90.00,187.00) scale(0.9850,1)" text-anchor="start">ħ<tspan font-size="14.60">ω</tspan><tspan font-size="13.34" dy="4.90" dx="-1.10">vib</tspan><tspan dy="-4.90">=160 meV</tspan></text>
<text transform="translate(90.00,206.00) scale(0.9850,1)" text-anchor="start">γ<tspan font-size="13.34" dy="4.90" dx="-1.10">ph</tspan><tspan dy="-4.90">=1.3x10</tspan><tspan font-size="12.40" dy="-6.00">14</tspan><tspan dy="6.00"> s</tspan><tspan font-size="12.40" dy="-6.00">−1</tspan><tspan dy="6.00"></tspan></text>
</g>
</svg>
</body>
</html>
